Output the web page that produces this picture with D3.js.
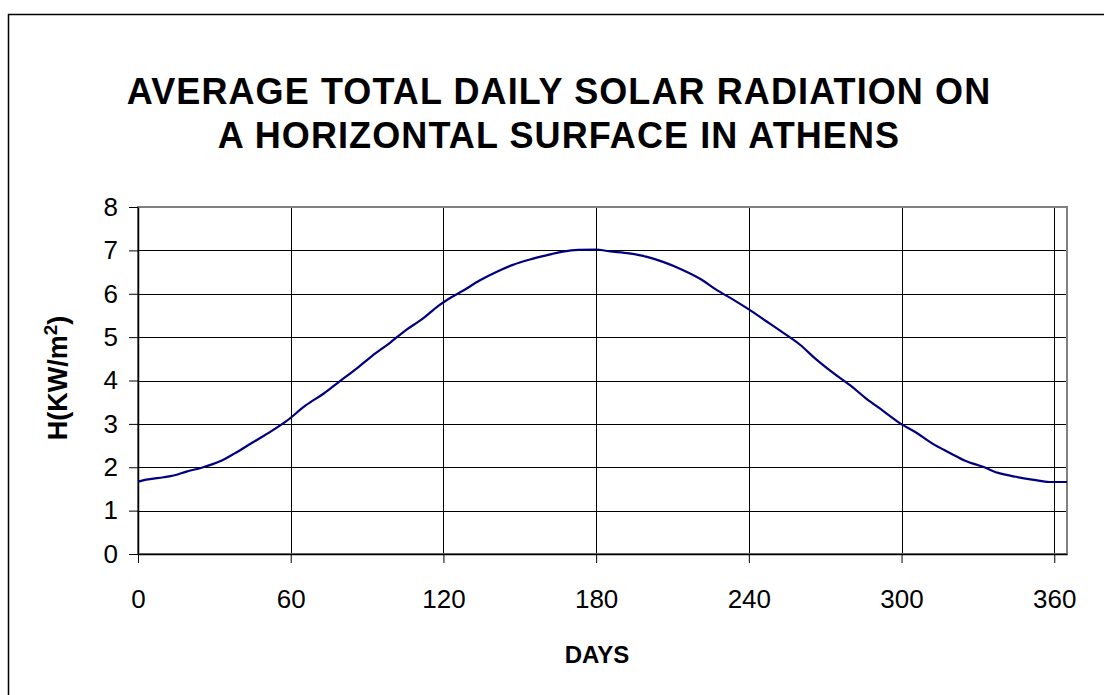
<!DOCTYPE html>
<html>
<head>
<meta charset="utf-8">
<script src="https://cdn.jsdelivr.net/npm/d3@7"></script>
<style>
  body { margin: 0; background: #fff; }
  svg { display: block; font-family: "Liberation Sans", Arial, sans-serif; }
</style>
</head>
<body>
<svg width="1104" height="695"></svg>
<script>
// chart data
var titleLines = ["AVERAGE TOTAL DAILY SOLAR RADIATION ON", "A HORIZONTAL SURFACE IN ATHENS"];
var xTicks = [0, 60, 120, 180, 240, 300, 360];
var yTicks = [0, 1, 2, 3, 4, 5, 6, 7, 8];
var days = [0, 4, 10, 14, 19, 25, 32, 38, 45, 51, 58, 66, 73, 79, 86, 92, 99, 105, 112, 118,
  122, 128, 134, 141, 147, 154, 160, 167, 173, 180, 185, 193, 200, 206, 214, 221, 227, 234,
  240, 247, 253, 260, 266, 273, 280, 286, 293, 299, 306, 312, 319, 325, 332, 338, 345, 352, 358, 365];
var radiation = [1.67, 1.72, 1.77, 1.81, 1.90, 1.99, 2.13, 2.32, 2.57, 2.78, 3.05, 3.43, 3.70, 3.97, 4.28, 4.57, 4.87, 5.15, 5.43, 5.72,
  5.88, 6.08, 6.30, 6.51, 6.66, 6.79, 6.88, 6.97, 7.01, 7.02, 6.98, 6.93, 6.85, 6.74, 6.55, 6.34, 6.10, 5.86,
  5.64, 5.36, 5.12, 4.83, 4.51, 4.18, 3.88, 3.59, 3.29, 3.03, 2.79, 2.55, 2.33, 2.15, 2.01, 1.87, 1.78, 1.71, 1.66, 1.66];

function drawChart() {
  var data = days.map(function(d, i) { return { day: d, h: radiation[i] }; });

  var svg = d3.select("svg");

  // outer chart frame (runs off the right and bottom edges)
  svg.append("rect")
    .attr("x", 8.5).attr("y", 14.5)
    .attr("width", 1110).attr("height", 700)
    .attr("fill", "none").attr("stroke", "#000").attr("stroke-width", 1.5);

  var plotLeft = 138, plotTop = 207, plotRight = 1067, plotBottom = 554;

  var x = d3.scaleLinear().domain([0, 365]).range([plotLeft, plotRight]);
  var y = d3.scaleLinear().domain([0, 8]).range([plotBottom, plotTop]);

  // title
  svg.append("g").selectAll("text")
    .data(titleLines)
    .enter().append("text")
    .attr("x", 559)
    .attr("y", function(d, i) { return 104 + i * 44; })
    .attr("text-anchor", "middle")
    .attr("font-size", 36)
    .attr("font-weight", "bold")
    .attr("letter-spacing", 1.1)
    .text(function(d) { return d; });

  // gridlines
  svg.append("g")
    .selectAll("line")
    .data(yTicks.slice(1))
    .enter().append("line")
    .attr("x1", plotLeft).attr("x2", plotRight)
    .attr("y1", function(d) { return Math.round(y(d)) + 0.5; })
    .attr("y2", function(d) { return Math.round(y(d)) + 0.5; })
    .attr("stroke", "#000").attr("stroke-width", 1);

  svg.append("g")
    .selectAll("line")
    .data(xTicks.slice(1))
    .enter().append("line")
    .attr("y1", plotTop).attr("y2", plotBottom)
    .attr("x1", function(d) { return Math.round(x(d)) + 0.5; })
    .attr("x2", function(d) { return Math.round(x(d)) + 0.5; })
    .attr("stroke", "#000").attr("stroke-width", 1);

  // plot area border
  svg.append("rect")
    .attr("x", plotLeft).attr("y", plotTop)
    .attr("width", plotRight - plotLeft).attr("height", plotBottom - plotTop)
    .attr("fill", "none").attr("stroke", "#808080").attr("stroke-width", 2);

  // axes
  var xAxis = d3.axisBottom(x).tickValues(xTicks).tickSize(9).tickPadding(27).tickSizeOuter(0);
  var yAxis = d3.axisLeft(y).tickValues(yTicks).tickSize(9).tickPadding(11).tickSizeOuter(0);

  var gx = svg.append("g")
    .attr("transform", "translate(0," + plotBottom + ")")
    .call(xAxis);
  var gy = svg.append("g")
    .attr("transform", "translate(" + plotLeft + ",0)")
    .call(yAxis);

  [gx, gy].forEach(function(g) {
    g.select(".domain").attr("stroke", "#000").attr("stroke-width", 1.5);
    g.selectAll(".tick line").attr("stroke", "#000");
    g.selectAll(".tick text")
      .attr("fill", "#000")
      .attr("font-size", 26)
      .attr("font-family", "Liberation Sans, Arial, sans-serif");
  });

  // the curve
  var line = d3.line()
    .x(function(d) { return x(d.day); })
    .y(function(d) { return y(d.h); })
    .curve(d3.curveMonotoneX);

  svg.append("path")
    .datum(data)
    .attr("d", line)
    .attr("fill", "none")
    .attr("stroke", "#000080")
    .attr("stroke-width", 2.2);

  // axis titles
  svg.append("text")
    .attr("x", 597).attr("y", 663)
    .attr("text-anchor", "middle")
    .attr("font-size", 24)
    .attr("font-weight", "bold")
    .text("DAYS");

  var yl = svg.append("text")
    .attr("transform", "translate(67,378) rotate(-90)")
    .attr("text-anchor", "middle")
    .attr("font-size", 27)
    .attr("font-weight", "bold");
  yl.append("tspan").text("H(KW/m");
  yl.append("tspan").attr("baseline-shift", "super").attr("font-size", 19).text("2");
  yl.append("tspan").text(")");
}

drawChart();
</script>
</body>
</html>
